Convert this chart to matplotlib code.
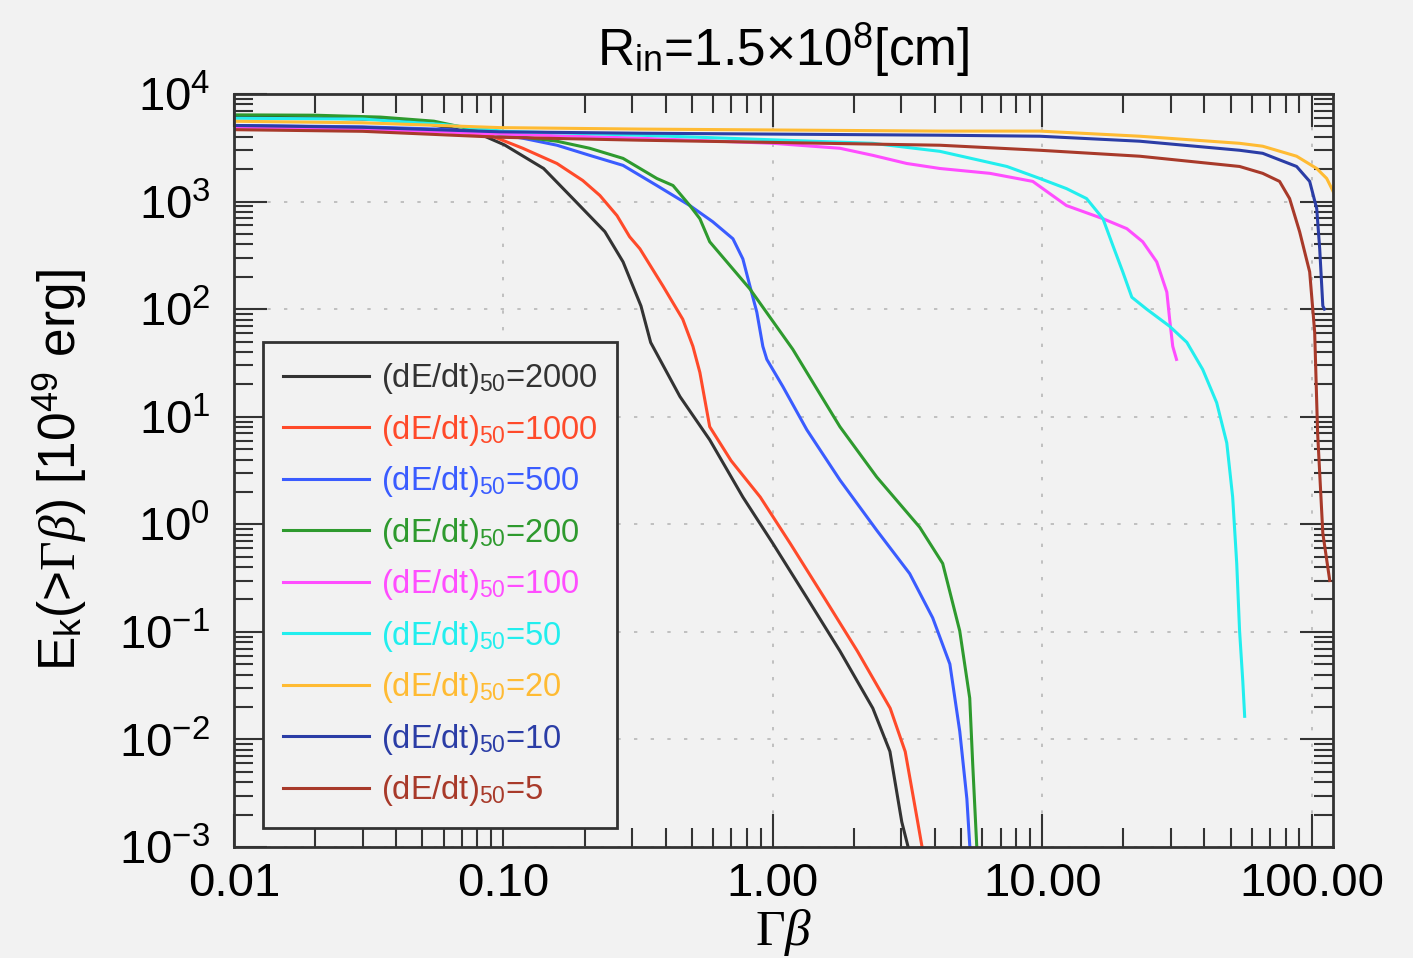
import numpy as np
import matplotlib
matplotlib.use("Agg")
import matplotlib.pyplot as plt
from matplotlib.ticker import LogLocator, FixedLocator, FixedFormatter, NullFormatter

# Cumulative kinetic energy E_k(>Gamma*beta) [1e49 erg] vs Gamma*beta,
# one curve per injection rate (dE/dt)_50

rates = ['2000', '1000', '500', '200', '100', '50', '20', '10', '5']
colors = ['#333333', '#ff4a2a', '#3a5cff', '#2e9a2e', '#ff4dff',
          '#22eeee', '#ffbb33', '#2b3da6', '#a83a2a']

gb_2000 = [0.01, 0.02, 0.035, 0.05, 0.0815, 0.101, 0.141, 0.181, 0.238, 0.278,
           0.324, 0.352, 0.452, 0.583, 0.774, 1.0, 1.337, 1.774, 2.35, 2.72, 3.01, 3.25]
ek_2000 = [6100, 6000, 5800, 5400, 4250, 3360, 2030, 1067, 525, 275,
           107, 49, 15.4, 6.1, 1.79, 0.664, 0.208, 0.0664, 0.0195, 0.00773, 0.00171, 0.0008]

gb_1000 = [0.01, 0.03, 0.06, 0.089, 0.118, 0.158, 0.197, 0.228, 0.264, 0.294, 0.321,
           0.391, 0.463, 0.505, 0.536, 0.583, 0.70, 0.898, 1.16, 1.551, 2.058, 2.726,
           3.1, 3.45, 3.57, 3.65]
ek_1000 = [4800, 4700, 4500, 4140, 3130, 2260, 1570, 1140, 740, 471, 364,
           164, 80.6, 45.1, 25.8, 8.07, 3.9, 1.79, 0.664, 0.208, 0.0664, 0.0195,
           0.0077, 0.0017, 0.00104, 0.0008]

gb_500 = [0.01, 0.03, 0.06, 0.09, 0.118, 0.158, 0.209, 0.278, 0.371, 0.492, 0.598,
          0.711, 0.774, 0.822, 0.872, 0.918, 0.950, 1.089, 1.337, 1.774, 2.43, 3.22,
          3.92, 4.54, 4.94, 5.25, 5.38, 5.45]
ek_500 = [5100, 4950, 4700, 4350, 3880, 3340, 2690, 2170, 1410, 918, 650,
          451, 293, 164, 93.7, 45.1, 34.1, 19.1, 7.56, 2.58, 0.879, 0.348,
          0.135, 0.0502, 0.0119, 0.00281, 0.00104, 0.0008]

gb_200 = [0.01, 0.02, 0.035, 0.0552, 0.0732, 0.089, 0.158, 0.209, 0.278, 0.371, 0.426,
          0.492, 0.536, 0.583, 0.822, 1.186, 1.337, 1.774, 2.43, 3.51, 4.27, 4.94,
          5.38, 5.52, 5.71, 5.75]
ek_200 = [6400, 6350, 6100, 5590, 4810, 4330, 3640, 3130, 2520, 1640, 1410,
          918, 693, 423, 154, 42.3, 25.8, 8.07, 2.75, 0.937, 0.432, 0.102,
          0.0242, 0.00584, 0.00104, 0.0008]

gb_100 = [0.01, 0.03, 0.097, 0.321, 1.0, 1.774, 2.35, 3.14, 4.17, 6.39, 9.22, 10.4,
          12.3, 16.8, 20.6, 23.6, 26.6, 29.0, 29.7, 30.5, 31.5]
ek_100 = [4900, 4700, 4250, 3880, 3480, 3130, 2690, 2260, 2030, 1830, 1540, 1240,
          918, 693, 560, 423, 275, 144, 80.7, 45.1, 34.1]

gb_50 = [0.01, 0.03, 0.06, 0.1, 0.321, 2.35, 4.17, 7.39, 9.79, 12.3, 14.6, 16.8,
         18.3, 19.9, 21.5, 24.4, 29.7, 34.4, 39.4, 44.4, 48.4, 50.9, 52.7, 54.0,
         55.5, 56.4]
ek_50 = [5950, 5850, 5200, 4500, 4140, 3480, 2930, 2120, 1640, 1320, 1067, 693,
         388, 222, 129, 100, 69.3, 49.2, 27.5, 13.5, 5.71, 1.79, 0.432, 0.102,
         0.0348, 0.0164]

gb_20 = [0.01, 0.03, 0.097, 0.321, 4.17, 9.79, 23.0, 54.0, 65.8, 87.9, 104.4,
         113.7, 118.7, 125]
ek_20 = [5580, 5400, 4870, 4720, 4520, 4520, 4050, 3480, 3270, 2640, 2030,
         1640, 1322, 1000]

gb_10 = [0.01, 0.03, 0.097, 0.321, 4.17, 9.79, 23.0, 54.0, 65.8, 87.9, 98.3,
         104.4, 107.1, 110.0, 111.5]
ek_10 = [5100, 4900, 4450, 4320, 4140, 4050, 3640, 2999, 2810, 2120, 1540,
         860, 364, 107, 100]

gb_5 = [0.01, 0.03, 0.097, 0.321, 4.17, 9.79, 23.0, 54.0, 65.8, 76.0, 82.8, 90.2,
        98.3, 102.6, 105.2, 110.0, 116.7]
ek_5 = [4660, 4500, 3960, 3720, 3340, 2999, 2640, 2120, 1830, 1540, 1067, 525,
        222, 61.0, 7.09, 0.824, 0.300]

gb_all = [gb_2000, gb_1000, gb_500, gb_200, gb_100, gb_50, gb_20, gb_10, gb_5]
ek_all = [ek_2000, ek_1000, ek_500, ek_200, ek_100, ek_50, ek_20, ek_10, ek_5]

xtick_vals = [0.01, 0.1, 1.0, 10.0, 100.0]
xtick_labels = ['0.01', '0.10', '1.00', '10.00', '100.00']

# Fonts: Helvetica-like text, serif Gamma/beta
plt.rcParams['font.family'] = ['Liberation Sans', 'DejaVu Sans']
plt.rcParams['mathtext.fontset'] = 'custom'
plt.rcParams['mathtext.rm'] = 'Liberation Sans'
plt.rcParams['mathtext.sf'] = 'Liberation Sans'
plt.rcParams['mathtext.it'] = 'Liberation Serif:italic'
plt.rcParams['mathtext.bf'] = 'Liberation Serif'
plt.rcParams['axes.unicode_minus'] = False

bg = '#f2f2f2'
ink = '#333333'

fig = plt.figure(figsize=(14.13, 9.58), dpi=100, facecolor=bg)
ax = fig.add_axes([0.16561, 0.11587, 0.77778, 0.78601])
ax.set_facecolor(bg)

for gb, ek, rate, col in zip(gb_all, ek_all, rates, colors):
    ax.plot(gb, ek, color=col, lw=2.2, label=r'(dE/dt)$_{50}$=' + rate)

ax.set_xscale('log')
ax.set_yscale('log')
ax.set_xlim(0.01, 120)
ax.set_ylim(1e-3, 1e4)

ax.xaxis.set_major_locator(FixedLocator(xtick_vals))
ax.xaxis.set_major_formatter(FixedFormatter(xtick_labels))
ax.xaxis.set_minor_locator(LogLocator(base=10, subs=np.arange(2, 10), numticks=20))
ax.xaxis.set_minor_formatter(NullFormatter())
ax.yaxis.set_major_locator(LogLocator(base=10, numticks=20))
ax.yaxis.set_minor_locator(LogLocator(base=10, subs=np.arange(2, 10), numticks=20))
ax.yaxis.set_minor_formatter(NullFormatter())

ax.tick_params(which='both', direction='in', top=True, right=True, color=ink)
ax.tick_params(which='major', length=24, width=1.5, labelsize=34)
ax.tick_params(which='minor', length=14, width=1.5)
ax.tick_params(axis='x', which='major', pad=11)
ax.tick_params(axis='y', which='major', pad=17)
for sp in ax.spines.values():
    sp.set_linewidth(2)
    sp.set_color(ink)

ax.set_axisbelow(True)
ax.grid(True, which='major', color='#b8b8b8', linestyle=(0, (2, 8)), linewidth=1.2)

ax.set_title(r'R$_{\mathrm{in}}$=1.5×10$^{8}$[cm]', fontsize=37, y=1.047, va='center')
ax.set_xlabel(r'$\mathbf{\Gamma}\beta$', fontsize=37, va='center')
ax.xaxis.set_label_coords(0.5, -0.114)
ax.set_ylabel(r'E$_{\mathrm{k}}$(>$\mathbf{\Gamma}\beta$) [10$^{49}$ erg]', fontsize=37, va='center')
ax.yaxis.set_label_coords(-0.158, 0.5)

leg = ax.legend(loc='lower left', bbox_to_anchor=(0.0264, 0.0252), borderaxespad=0,
                fontsize=23.5, labelcolor='linecolor', frameon=True, fancybox=False,
                edgecolor=ink, facecolor=bg, framealpha=1, handlelength=2.65,
                handletextpad=0.35, labelspacing=0.506, borderpad=0.6)
leg.get_frame().set_linewidth(2)

fig.savefig('out.png', dpi=100, facecolor=fig.get_facecolor())
